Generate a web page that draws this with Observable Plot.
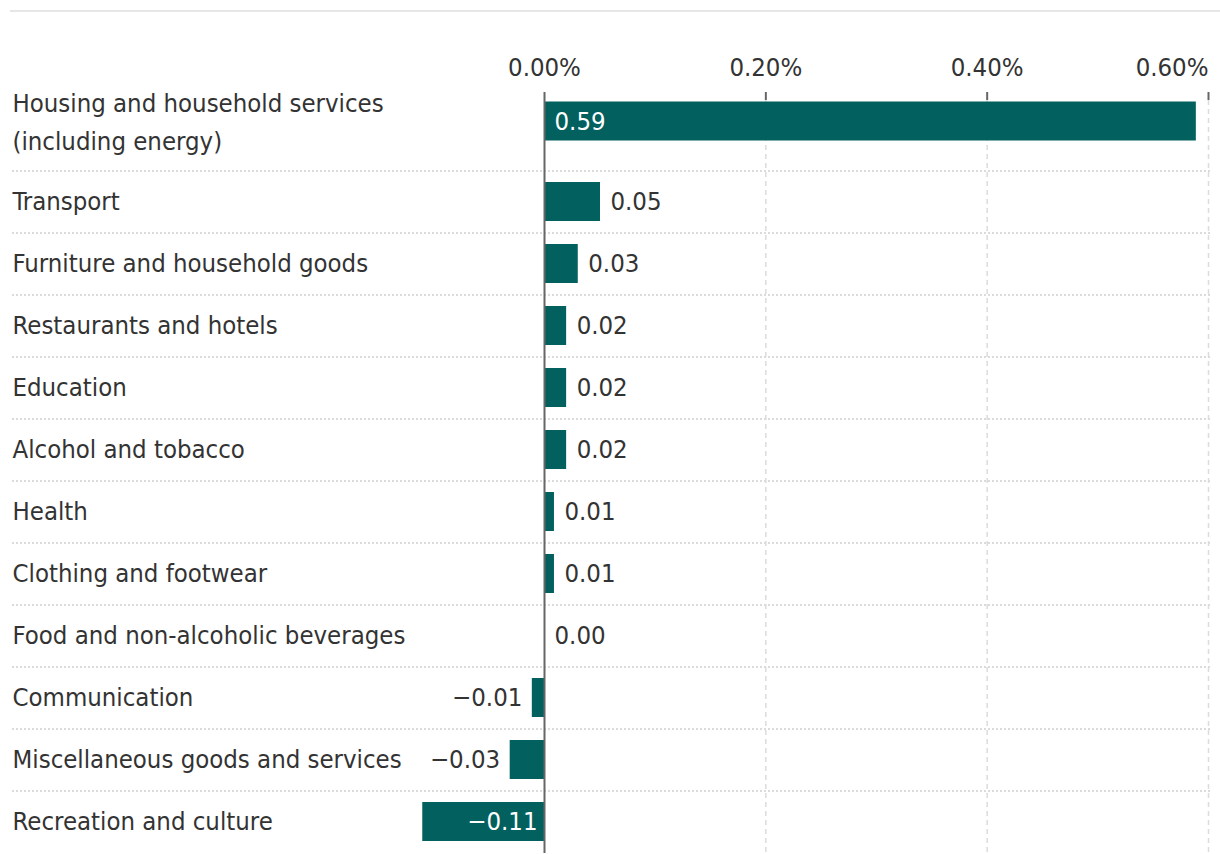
<!DOCTYPE html>
<html>
<head>
<meta charset="utf-8">
<script src="https://cdn.jsdelivr.net/npm/d3@7"></script>
<script src="https://cdn.jsdelivr.net/npm/@observablehq/plot@0.6"></script>
<style>
  html, body { margin: 0; padding: 0; background: #fff; }
  #wrap { position: relative; width: 1220px; height: 854px; overflow: hidden; }
  #topline { position: absolute; top: 10px; left: 10px; right: 0; height: 2px; background: #e6e6e6; }
</style>
</head>
<body>
<div id="wrap"><div id="topline"></div><div id="chart"></div></div>
<script>
const categories = [
  "Housing and household services\n(including energy)",
  "Transport",
  "Furniture and household goods",
  "Restaurants and hotels",
  "Education",
  "Alcohol and tobacco",
  "Health",
  "Clothing and footwear",
  "Food and non-alcoholic beverages",
  "Communication",
  "Miscellaneous goods and services",
  "Recreation and culture"
];
const values = [0.589, 0.0506, 0.0305, 0.020, 0.020, 0.020, 0.009, 0.009, 0.000, -0.011, -0.031, -0.110];
const xTicks = [0, 0.2, 0.4, 0.6];

const data = categories.map((c, i) => ({category: c, value: values[i], first: i === 0}));

const W = 1220, H = 854;
const mL = 12, mR = 10, mT = 109, mB = 1;
const zeroPx = 544, maxPx = 1208;
const k = (maxPx - zeroPx) / d3.max(xTicks);
const xDomain = [(mL - zeroPx) / k, (W - mR - zeroPx) / k];

const teal = "#02605e";
const textColor = "#333333";
const fs = 25.5;
const firstShift = -18.5;

const fmtVal = v => d3.format(".2f")(v).replace("-", "\u2013");
const fmtTick = t => d3.format(".2f")(t) + "%";
const inside = d => Math.abs(d.value) > 0.1;

const rest = data.filter(d => !d.first);
const first = data.filter(d => d.first);

const chart = Plot.plot({
  width: W,
  height: H,
  marginLeft: mL,
  marginRight: mR,
  marginTop: mT,
  marginBottom: mB,
  x: {domain: xDomain, axis: null},
  y: {domain: categories, paddingInner: 0.37, paddingOuter: 0.185, axis: null},
  style: {fontFamily: '"DejaVu Sans Condensed", "Liberation Sans Narrow", Roboto, sans-serif', background: "#fff"},
  marks: [
    Plot.ruleY(rest, {y: "category", dy: -31, stroke: "#cfcfcf", strokeWidth: 1.5, strokeDasharray: "2,2"}),
    Plot.ruleX(xTicks.filter(t => t !== 0), {x: d => d, stroke: "#dcdcdc", strokeWidth: 1.5, strokeDasharray: "5,4", insetTop: -9}),
    Plot.ruleX(xTicks.filter(t => t !== 0), {x: d => d, stroke: "#666", strokeWidth: 2, insetTop: -17, insetBottom: H - mB - mT + 9}),
    Plot.barX(rest, {x: "value", y: "category", fill: teal}),
    Plot.barX(first, {x: "value", y: "category", fill: teal, dy: firstShift}),
    Plot.ruleX([0], {x: d => d, stroke: "#666", strokeWidth: 2, insetTop: -17}),
    Plot.text(xTicks.slice(0, -1), {x: d => d, frameAnchor: "top", lineAnchor: "bottom", dy: -34, text: fmtTick, fontSize: fs, fill: textColor}),
    Plot.text(xTicks.slice(-1), {x: d => d, frameAnchor: "top", lineAnchor: "bottom", dy: -34, textAnchor: "end", text: fmtTick, fontSize: fs, fill: textColor}),
    Plot.text(rest, {y: "category", text: "category", frameAnchor: "left", textAnchor: "start", fontSize: fs, fill: textColor}),
    Plot.text(first, {y: "category", text: "category", frameAnchor: "left", textAnchor: "start", fontSize: fs, fill: textColor, lineHeight: 1.5, dy: firstShift - 3}),
    Plot.text(rest.filter(d => !inside(d) && d.value >= 0), {x: "value", y: "category", text: d => fmtVal(d.value), textAnchor: "start", dx: 10, fontSize: fs, fill: textColor}),
    Plot.text(rest.filter(d => !inside(d) && d.value < 0), {x: "value", y: "category", text: d => fmtVal(d.value), textAnchor: "end", dx: -10, fontSize: fs, fill: textColor}),
    Plot.text(first.filter(d => inside(d) && d.value >= 0), {x: 0, y: "category", text: d => fmtVal(d.value), textAnchor: "start", dx: 10, dy: firstShift, fontSize: fs, fill: "#fff"}),
    Plot.text(rest.filter(d => inside(d) && d.value < 0), {x: 0, y: "category", text: d => fmtVal(d.value), textAnchor: "end", dx: -7, fontSize: fs, fill: "#fff"})
  ]
});
document.getElementById("chart").appendChild(chart);
</script>
</body>
</html>
